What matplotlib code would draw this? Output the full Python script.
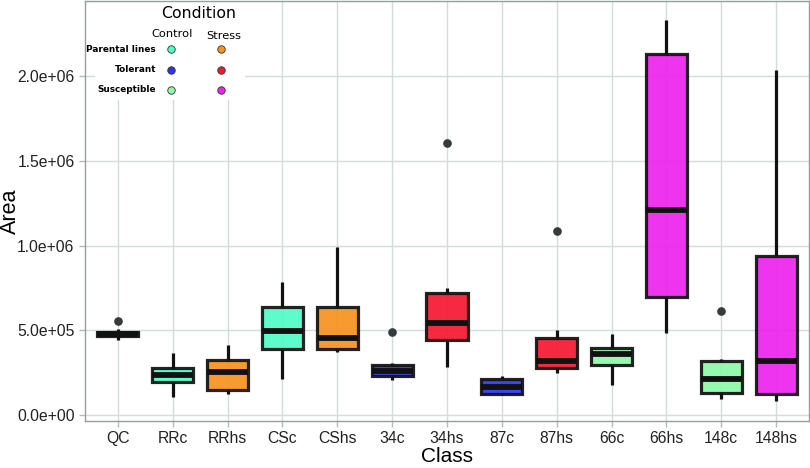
import matplotlib.pyplot as plt
from matplotlib.patches import Rectangle

classes = ["QC", "RRc", "RRhs", "CSc", "CShs", "34c", "34hs",
           "87c", "87hs", "66c", "66hs", "148c", "148hs"]
groups = ["QC", "PC", "PS", "PC", "PS", "TC", "TS",
          "TC", "TS", "SC", "SS", "SC", "SS"]

# box statistics (units of Area)
q1 = [4.65e5, 1.96e5, 1.47e5, 3.88e5, 3.92e5, 2.33e5, 4.41e5,
      1.24e5, 2.75e5, 2.94e5, 6.96e5, 1.31e5, 1.22e5]
med = [4.78e5, 2.37e5, 2.53e5, 4.94e5, 4.55e5, 2.57e5, 5.43e5,
       1.65e5, 3.18e5, 3.59e5, 1.212e6, 2.14e5, 3.18e5]
q3 = [4.90e5, 2.78e5, 3.24e5, 6.37e5, 6.37e5, 2.98e5, 7.22e5,
      2.12e5, 4.57e5, 3.98e5, 2.128e6, 3.18e5, 9.41e5]
whislo = [4.45e5, 1.08e5, 1.22e5, 2.12e5, 3.72e5, 2.06e5, 2.84e5,
          1.20e5, 2.49e5, 1.76e5, 4.84e5, 0.92e5, 0.84e5]
whishi = [5.10e5, 3.66e5, 4.16e5, 7.84e5, 9.90e5, 3.10e5, 7.49e5,
          2.29e5, 5.00e5, 4.80e5, 2.33e6, 3.28e5, 2.035e6]
outliers = [[5.55e5], [], [], [], [], [4.90e5], [1.606e6],
            [], [1.088e6], [], [], [6.13e5], []]

palette = {"QC": "#7f7f7f",
           "PC": "#4ffcc6", "PS": "#f7921e",
           "TC": "#2a34f0", "TS": "#f5172f",
           "SC": "#8ef9a8", "SS": "#ee22ee"}

fig = plt.figure(figsize=(8.1, 4.68), dpi=100)
W, H = 810, 468
ax = fig.add_axes([85 / W, (468 - 421) / H, 724 / W, 420 / H])

stats = []
for i, c in enumerate(classes):
    stats.append(dict(label=c, q1=q1[i], med=med[i], q3=q3[i],
                      whislo=whislo[i], whishi=whishi[i], fliers=outliers[i]))

bp = ax.bxp(stats, positions=range(1, len(classes) + 1), widths=0.75,
            patch_artist=True, showcaps=False,
            boxprops=dict(linewidth=2.3, edgecolor="#111111"),
            medianprops=dict(linewidth=4.2, color="#111111", solid_capstyle="butt"),
            whiskerprops=dict(linewidth=2.3, color="#111111", solid_capstyle="butt"),
            flierprops=dict(marker="o", markersize=5.2, markerfacecolor="#353b3b",
                            markeredgecolor="#353b3b"))
for patch, g in zip(bp["boxes"], groups):
    patch.set_facecolor(palette[g])
    patch.set_alpha(0.92)
    patch.set_edgecolor("#111111")

ax.set_xlim(0.4, 13.6)
ax.set_ylim(-0.035e6, 2.442e6)
ax.set_yticks([0, 5e5, 1e6, 1.5e6, 2e6])
ax.set_yticklabels(["0.0e+00", "5.0e+05", "1.0e+06", "1.5e+06", "2.0e+06"])
ax.set_xticks(range(1, len(classes) + 1))
ax.set_xticklabels(classes)

ax.set_axisbelow(True)
ax.grid(True, color="#d3dbdb", linewidth=1.0)
for s in ax.spines.values():
    s.set_color("#8fa0a0")
    s.set_linewidth(1.0)
ax.tick_params(colors="#b0bcbc", length=4, width=1.0, labelsize=11.3, labelcolor="#222222")
for lab in ax.get_xticklabels() + ax.get_yticklabels():
    lab.set_family("Liberation Sans")

ax.set_xlabel("Class", fontsize=15, family="Liberation Sans")
ax.set_ylabel("Area", fontsize=15.5, family="Liberation Sans")
ax.xaxis.set_label_coords(0.5, (421 - 447) / 420)
ax.yaxis.set_label_coords((21 - 85) / 724, 0.5)

# legend drawn by hand (two-way grid of condition x line type)
ax.add_patch(Rectangle((95 / W, 1 - 100 / H), 150 / W, 99 / H, transform=fig.transFigure,
                       facecolor="white", edgecolor="none", zorder=1.5))
fig.text(199 / W, 1 - 13 / H, "Condition", fontsize=11.3, ha="center", va="center")
fig.text(172 / W, 1 - 34 / H, "Control", fontsize=8.2, ha="center", va="center")
fig.text(223.5 / W, 1 - 36 / H, "Stress", fontsize=8.2, ha="center", va="center")
rows = [("Parental lines", "PC", "PS", 49), ("Tolerant", "TC", "TS", 69.5),
        ("Susceptible", "SC", "SS", 90)]
for name, gc, gs, py in rows:
    fig.text(156 / W, 1 - py / H, name, fontsize=6.4, fontweight="bold",
             ha="right", va="center")
    for gx, g in ((171, gc), (221, gs)):
        ax.plot([gx / W], [1 - py / H], marker="o", markersize=5.4,
                markerfacecolor=palette[g], markeredgecolor="#333333",
                markeredgewidth=0.6, transform=fig.transFigure, clip_on=False, zorder=5)

fig.savefig("out.png", dpi=100)
